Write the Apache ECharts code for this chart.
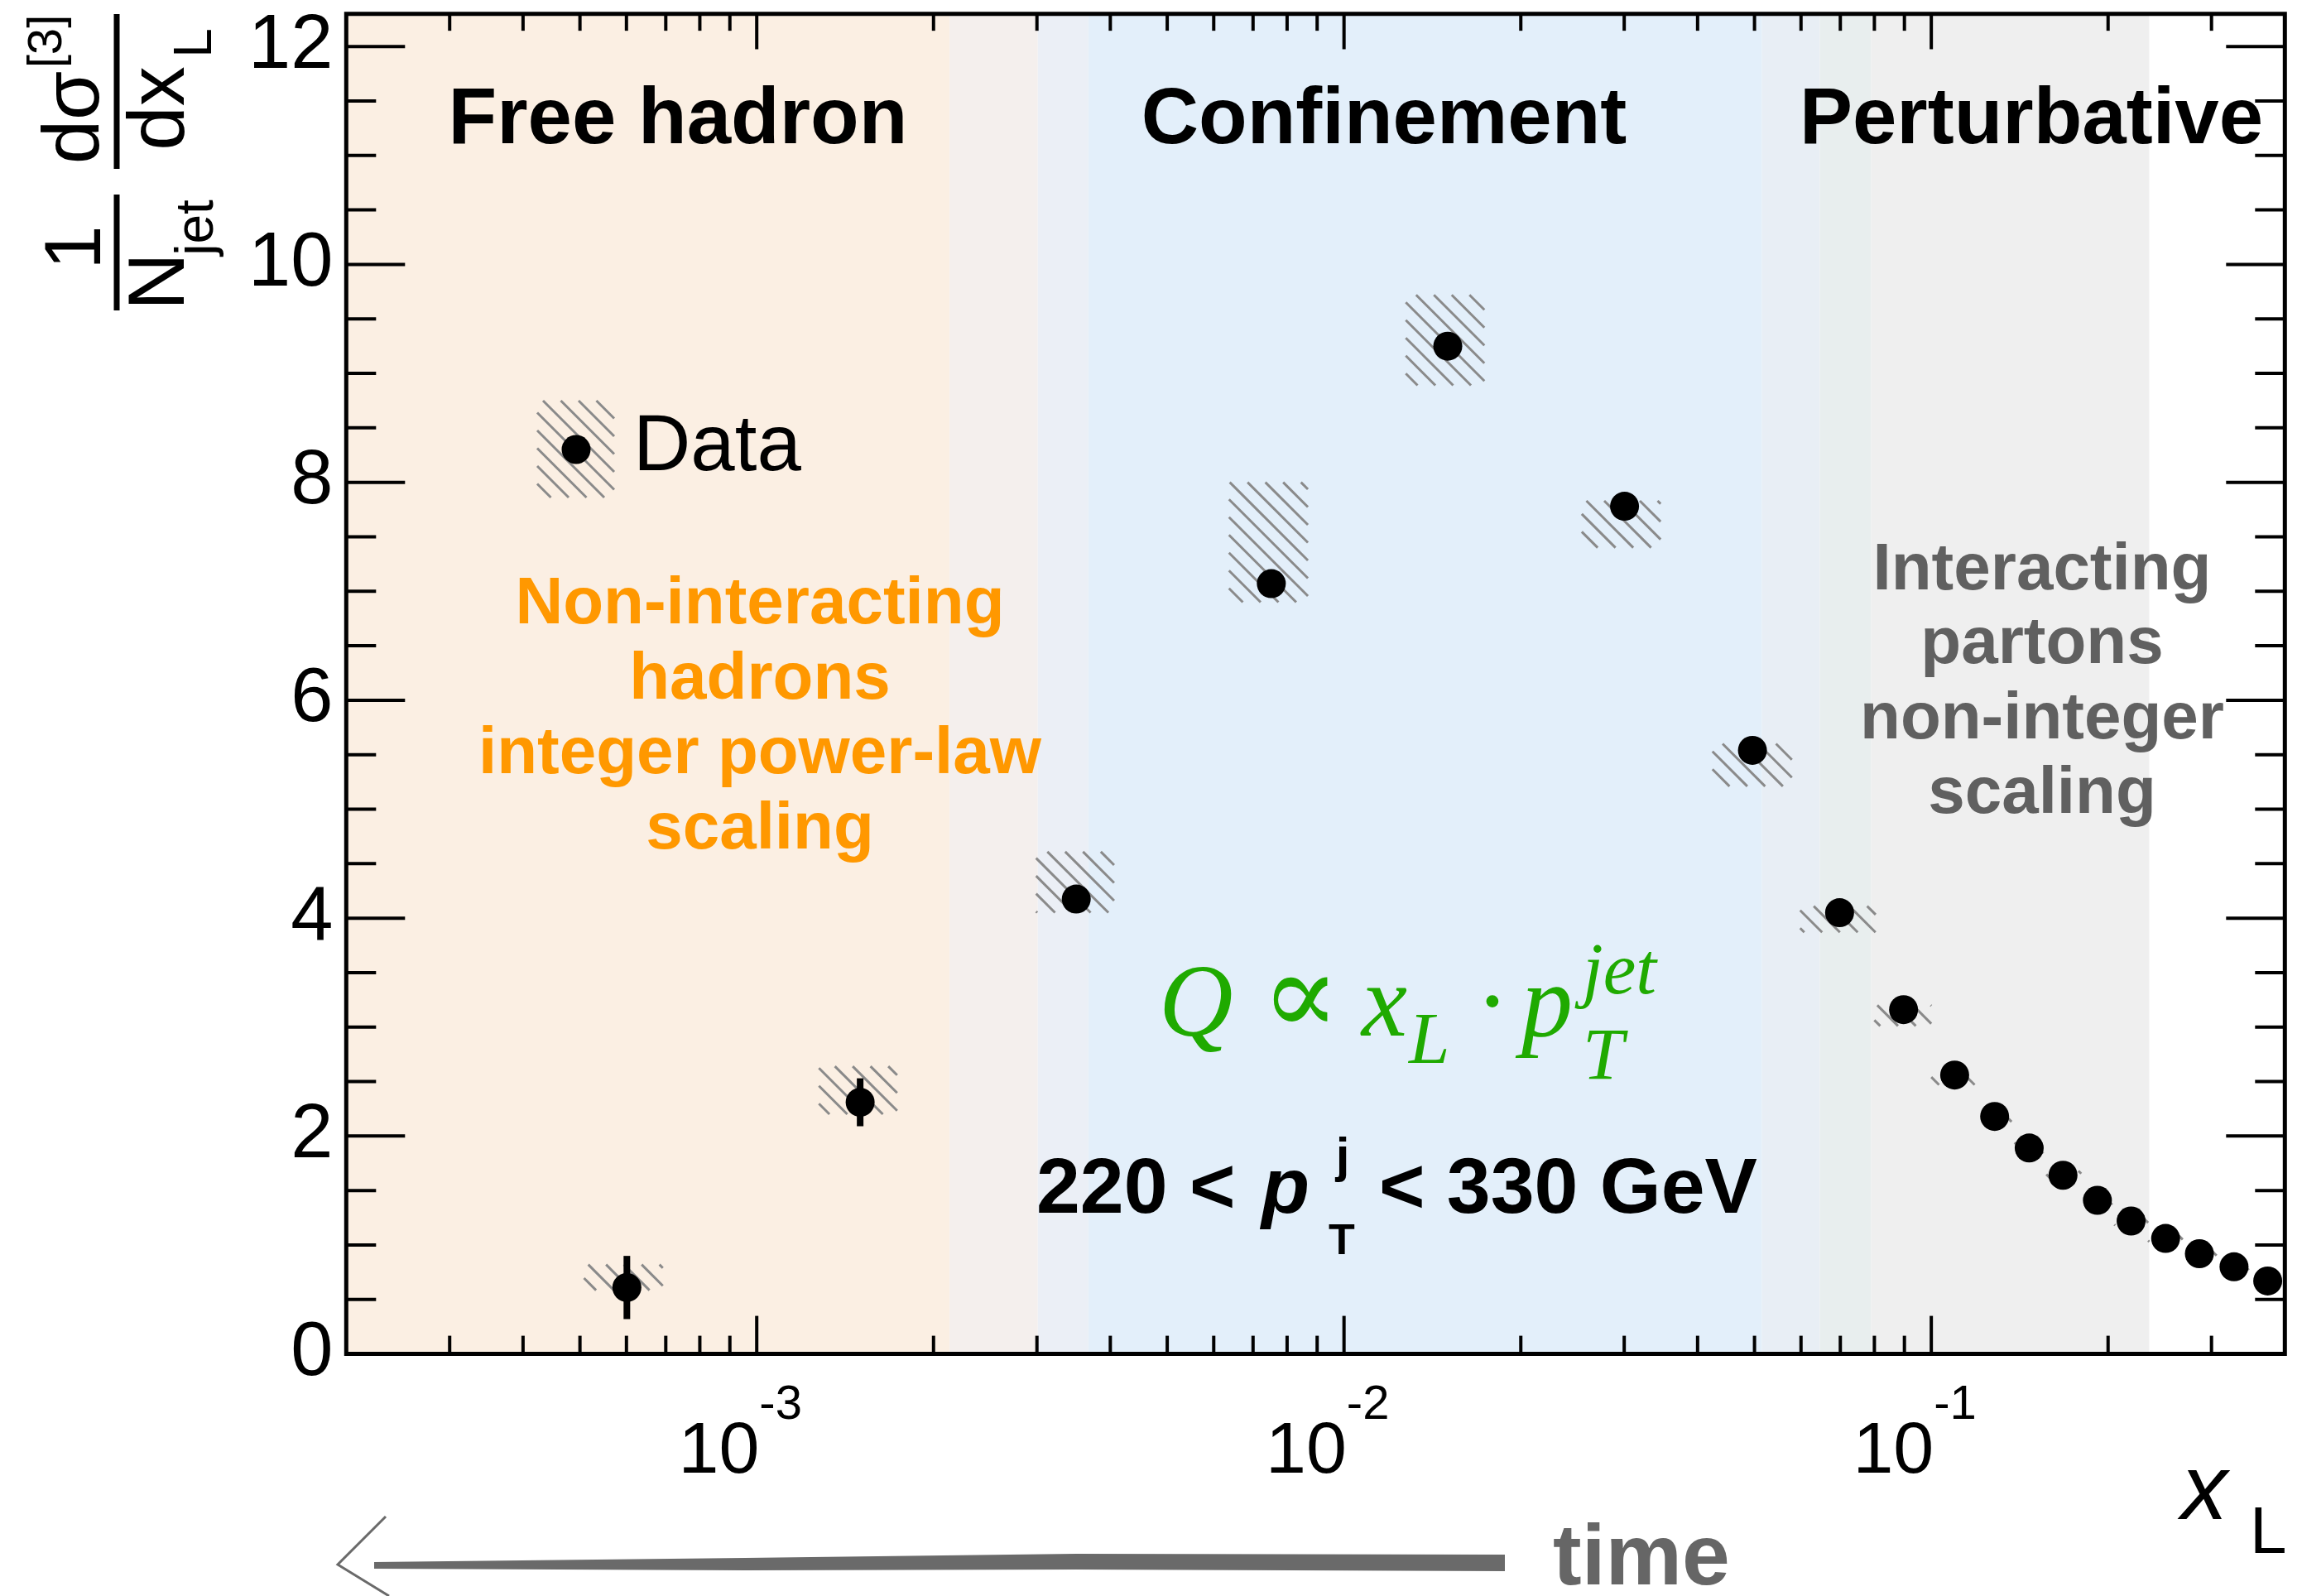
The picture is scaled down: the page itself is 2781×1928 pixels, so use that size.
<!DOCTYPE html>
<html><head><meta charset="utf-8">
<script src="https://cdn.jsdelivr.net/npm/echarts@6/dist/echarts.min.js"></script>
<style>html,body{margin:0;padding:0;background:#fff}#c{width:2781px;height:1928px}</style>
</head><body><div id="c"></div>
<script>
// ---------------- data ----------------
const xL      = [6.01e-4, 1.50e-3, 3.50e-3, 7.52e-3, 1.502e-2, 3.004e-2, 4.96e-2, 6.98e-2, 8.97e-2, 0.1096, 0.1282, 0.1468, 0.1676, 0.1918, 0.2189, 0.2506, 0.2861, 0.3277, 0.374];
const yVal    = [0.61, 2.31, 4.175, 7.07, 9.25, 7.78, 5.54, 4.05, 3.16, 2.56, 2.18, 1.89, 1.64, 1.41, 1.22, 1.06, 0.92, 0.80, 0.67];
const statErr = [0.29, 0.22, 0.05, 0.06, 0.06, 0.05, 0.04, 0.03, 0.03, 0.03, 0.03, 0.02, 0.02, 0.02, 0.02, 0.02, 0.02, 0.02, 0.02];
const sysXLow  = [5.08e-4, 1.276e-3, 2.99e-3, 6.37e-3, 1.274e-2, 2.54e-2, 4.24e-2, 5.98e-2, 8.0e-2, 0.100, 0.120, 0.137, 0.157, 0.180, 0.205, 0.234, 0.268, 0.306, 0.350];
const sysXHigh = [6.92e-4, 1.734e-3, 4.06e-3, 8.68e-3, 1.734e-2, 3.46e-2, 5.79e-2, 8.04e-2, 0.100, 0.120, 0.137, 0.157, 0.180, 0.205, 0.234, 0.268, 0.306, 0.350, 0.398];
const sysLow   = [0.585, 2.20, 4.05, 6.90, 8.89, 7.40, 5.21, 3.87, 3.01, 2.47, 2.12, 1.84, 1.59, 1.37, 1.18, 1.03, 0.89, 0.77, 0.65];
const sysHigh  = [0.82, 2.64, 4.61, 8.00, 9.72, 7.83, 5.60, 4.11, 3.20, 2.58, 2.23, 1.94, 1.68, 1.45, 1.25, 1.09, 0.95, 0.83, 0.70];

const xMin = 2e-4, xMax = 0.4, yMin = 0, yMax = 12.3;
const xMajorTicks = [1e-3, 1e-2, 1e-1];
const xMinorTicks = [3e-4,4e-4,5e-4,6e-4,7e-4,8e-4,9e-4, 2e-3,3e-3,4e-3,5e-3,6e-3,7e-3,8e-3,9e-3, 2e-2,3e-2,4e-2,5e-2,6e-2,7e-2,8e-2,9e-2, 0.2,0.3];
const yMajorTicks = [0,2,4,6,8,10,12];
const yMinorTicks = [0.5,1,1.5, 2.5,3,3.5, 4.5,5,5.5, 6.5,7,7.5, 8.5,9,9.5, 10.5,11,11.5];

// background regions (x_L boundaries)
const bandEdges = [2e-4, 2.13e-3, 3.01e-3, 3.67e-3, 0.0515, 0.0646, 0.079, 0.235];

// ---------------- styles ----------------
const bandColors = ['#fbefe3', '#f4efed', '#ebeff6', '#e3effa', '#e8eef5', '#e8eeee', '#efefef'];
const SANS = "'Liberation Sans', Arial, Helvetica, sans-serif";
const SERIF = "'Liberation Serif', 'Times New Roman', 'DejaVu Serif', serif";
const GREEN = '#1faa00', ORANGE = '#ff9800', GREY = '#606060';
const HSTEP = 21.5;

function hatchLines(x0, y0, x1, y1, extra) {
  const out = [];
  const cStart = Math.ceil((x0 - y1) / HSTEP) * HSTEP;
  for (let c = cStart; c <= x1 - y0; c += HSTEP) {
    const xa = Math.max(x0, y0 + c), xb = Math.min(x1, y1 + c);
    if (xb > xa) {
      const el = {type: 'line', shape: {x1: xa, y1: xa - c, x2: xb, y2: xb - c}, style: {stroke: '#8a8a8a', lineWidth: 3}};
      if (extra) Object.assign(el, extra);
      out.push(el);
    }
  }
  return out;
}

function T(text, x, base, size, o) {
  o = o || {};
  const font = (o.style || 'normal') + ' ' + (o.weight || 'normal') + ' ' + size + 'px ' + (o.fam || SANS);
  const k = (o.fam === SERIF) ? 0.338 : 0.347;
  const el = {type: 'text', z: 100, zlevel: 1, silent: true,
    style: {text: text, font: font, fill: o.fill || '#000',
      align: o.align || 'left', textAlign: o.align || 'left',
      verticalAlign: 'middle', textVerticalAlign: 'middle'}};
  if (o.rot) { // rotated 90deg CCW; x = baseline x, base = centre y
    el.x = x - k * size; el.y = base; el.rotation = Math.PI / 2;
  } else {
    el.x = x; el.y = base - k * size;
  }
  return el;
}

const graphics = [];
// y-axis title (rotated)
graphics.push(T('1', 128, 299, 96, {rot: true, align: 'center'}));
graphics.push({type: 'line', z: 100, zlevel: 1, shape: {x1: 141, y1: 235, x2: 141, y2: 375}, style: {stroke: '#000', lineWidth: 7}});
graphics.push(T('N', 229, 340, 96, {rot: true, align: 'center'}));
graphics.push(T('jet', 262, 275, 64, {rot: true, align: 'center'}));
graphics.push({type: 'line', z: 100, zlevel: 1, shape: {x1: 141, y1: 17, x2: 141, y2: 204}, style: {stroke: '#000', lineWidth: 7}});
graphics.push(T('d\u03c3', 126, 142, 96, {rot: true, align: 'center'}));
graphics.push(T('[3]', 78, 50, 58, {rot: true, align: 'center'}));
graphics.push(T('dx', 229, 131, 96, {rot: true, align: 'center'}));
graphics.push(T('L', 260, 52, 64, {rot: true, align: 'center'}));

// region titles
graphics.push(T('Free hadron', 819, 180, 96, {weight: 'bold', align: 'center'}));
graphics.push(T('Confinement', 1672, 180, 96, {weight: 'bold', align: 'center'}));
graphics.push(T('Perturbative', 2454, 180, 96, {weight: 'bold', align: 'center'}));

// legend
graphics.push({type: 'group', children: hatchLines(649, 484, 742, 601, {z: 100, zlevel: 1})});
graphics.push({type: 'circle', z: 101, zlevel: 1, shape: {cx: 696, cy: 543, r: 17.5}, style: {fill: '#000'}});
graphics.push(T('Data', 765, 575, 96));

// orange annotation
[['Non-interacting', 759], ['hadrons', 849.5], ['integer power-law', 940], ['scaling', 1031]].forEach(function (a) {
  graphics.push(T(a[0], 918, a[1], 80, {weight: 'bold', align: 'center', fill: ORANGE}));
});
// grey annotation
[['Interacting', 718], ['partons', 807], ['non-integer', 898], ['scaling', 988]].forEach(function (a) {
  graphics.push(T(a[0], 2467, a[1], 80, {weight: 'bold', align: 'center', fill: GREY}));
});

// green formula
const it = {fam: SERIF, style: 'italic', fill: GREEN};
graphics.push(T('Q', 1400, 1260, 124, it));
graphics.push(T('\u221d', 1571, 1260, 140, {fam: SERIF, fill: GREEN, align: 'center'}));
graphics.push(T('x', 1645, 1260, 124, it));
graphics.push(T('L', 1702, 1291, 89, it));
graphics.push(T('\u00b7', 1803, 1260, 124, {fam: SERIF, fill: GREEN, align: 'center'}));
graphics.push(T('p', 1838, 1260, 124, it));
graphics.push(T('T', 1912, 1310, 89, it));
graphics.push(T('jet', 1912, 1207, 89, it));

// pT range
graphics.push(T('220 <', 1252, 1472, 95, {weight: 'bold'}));
graphics.push(T('p', 1524, 1472, 95, {weight: 'bold', style: 'italic'}));
graphics.push(T('T', 1621, 1519, 52, {weight: 'bold', align: 'center'}));
graphics.push(T('j', 1622, 1420, 60, {weight: 'bold', align: 'center'}));
graphics.push(T('< 330 GeV', 1666, 1472, 95, {weight: 'bold'}));

// axis title x_L
graphics.push(T('x', 2635, 1843, 112, {style: 'italic'}));
graphics.push(T('L', 2718, 1882, 80));

// time arrow
graphics.push({type: 'polygon', z: 100, zlevel: 1, shape: {points: [[452, 1887], [900, 1882], [1300, 1877], [1818, 1878], [1818, 1898], [1300, 1896], [900, 1897], [452, 1895]]}, style: {fill: '#6a6a6a'}});
graphics.push({type: 'polyline', z: 100, zlevel: 1, shape: {points: [[466, 1832], [408, 1890], [470, 1928]]}, style: {stroke: '#6a6a6a', lineWidth: 3, fill: null}});
graphics.push(T('time', 1876, 1921, 104, {weight: 'bold', fill: '#666666'}));

// ---------------- chart ----------------
const chart = echarts.init(document.getElementById('c'), null, {renderer: 'canvas', width: 2781, height: 1928});

function tickSeries(data, isX, len) {
  return {
    type: 'custom', z: 8, silent: true, clip: false,
    data: data.map(function (v) { return isX ? [v, 1] : [1e-3, v]; }),
    encode: {x: 0, y: 1},
    renderItem: function (params, api) {
      const cs = params.coordSys;
      const st = {stroke: '#000', lineWidth: 4};
      if (isX) {
        const x = api.coord([api.value(0), 1])[0];
        const yb = cs.y + cs.height, yt = cs.y;
        return {type: 'group', children: [
          {type: 'line', shape: {x1: x, y1: yb, x2: x, y2: yb - len}, style: st},
          {type: 'line', shape: {x1: x, y1: yt, x2: x, y2: yt + len * 0.93}, style: st}]};
      } else {
        const y = api.coord([1e-3, api.value(1)])[1];
        const xl = cs.x, xr = cs.x + cs.width;
        return {type: 'group', children: [
          {type: 'line', shape: {x1: xl, y1: y, x2: xl + len, y2: y}, style: st},
          {type: 'line', shape: {x1: xr, y1: y, x2: xr - len, y2: y}, style: st}]};
      }
    }
  };
}

const option = {
  animation: false,
  backgroundColor: '#ffffff',
  grid: {left: 418.3, top: 16.7, right: 20.7, bottom: 292.4, containLabel: false, outerBoundsMode: 'none'},
  xAxis: {
    type: 'log', logBase: 10, min: xMin, max: xMax,
    axisLine: {show: false}, axisTick: {show: false}, splitLine: {show: false}, minorTick: {show: false},
    axisLabel: {
      margin: 33, color: '#000', fontFamily: SANS,
      formatter: function (v) {
        const l = Math.log10(v), r = Math.round(l);
        if (Math.abs(l - r) < 1e-6) return '{b|10}{s|' + r + '}';
        return '';
      },
      rich: {
        b: {fontSize: 88, lineHeight: 130, verticalAlign: 'bottom', fontFamily: SANS, color: '#000'},
        s: {fontSize: 58, lineHeight: 40, verticalAlign: 'top', fontFamily: SANS, color: '#000', padding: [0, 40, 0, 0]}
      }
    }
  },
  yAxis: {
    type: 'value', min: yMin, max: yMax, interval: 2,
    axisLine: {show: false}, axisTick: {show: false}, splitLine: {show: false},
    axisLabel: {
      margin: 16, fontSize: 92, color: '#000', fontFamily: SANS, padding: [12, 0, 0, 0],
      formatter: function (v) {
        const r = Math.round(v);
        return (Math.abs(v - r) < 1e-6 && r % 2 === 0 && r <= 12) ? String(r) : '';
      }
    }
  },
  graphic: {elements: graphics},
  series: [
    { // background regions
      type: 'custom', z: 1, silent: true,
      data: bandEdges.slice(0, -1).map(function (e, i) { return [e, bandEdges[i + 1], i]; }),
      encode: {x: [0, 1]},
      renderItem: function (params, api) {
        const p0 = api.coord([api.value(0), yMax]);
        const p1 = api.coord([api.value(1), yMin]);
        return {type: 'rect', shape: {x: p0[0], y: p0[1], width: p1[0] - p0[0], height: p1[1] - p0[1]},
          style: {fill: bandColors[api.value(2)]}};
      }
    },
    { // systematic uncertainty boxes
      type: 'custom', z: 3, silent: true,
      data: xL.map(function (x, i) { return [sysXLow[i], sysXHigh[i], sysLow[i], sysHigh[i]]; }),
      encode: {x: [0, 1], y: [2, 3]},
      renderItem: function (params, api) {
        const a = api.coord([api.value(0), api.value(3)]);
        const b = api.coord([api.value(1), api.value(2)]);
        return {type: 'group', children: hatchLines(a[0], a[1], b[0], b[1])};
      }
    },
    { // statistical error bars
      type: 'custom', z: 4, silent: true,
      data: xL.map(function (x, i) { return [x, yVal[i] - statErr[i], yVal[i] + statErr[i]]; }),
      encode: {x: 0, y: [1, 2]},
      renderItem: function (params, api) {
        const a = api.coord([api.value(0), api.value(1)]);
        const b = api.coord([api.value(0), api.value(2)]);
        return {type: 'line', shape: {x1: a[0], y1: a[1], x2: b[0], y2: b[1]}, style: {stroke: '#000', lineWidth: 8}};
      }
    },
    {
      type: 'scatter', z: 5, silent: true, name: 'Data',
      data: xL.map(function (x, i) { return [x, yVal[i]]; }),
      symbol: 'circle', symbolSize: 35, itemStyle: {color: '#000', opacity: 1}
    },
    tickSeries(xMajorTicks, true, 46),
    tickSeries(xMinorTicks, true, 22),
    tickSeries(yMajorTicks, false, 71),
    tickSeries(yMinorTicks, false, 36),
    { // frame
      type: 'custom', z: 9, silent: true, clip: false,
      data: [[1e-3, 1]], encode: {x: 0, y: 1},
      renderItem: function (params, api) {
        const cs = params.coordSys;
        return {type: 'rect', shape: {x: cs.x, y: cs.y, width: cs.width, height: cs.height},
          style: {fill: null, stroke: '#000', lineWidth: 5}};
      }
    }
  ]
};
chart.setOption(option);
</script>
</body></html>
